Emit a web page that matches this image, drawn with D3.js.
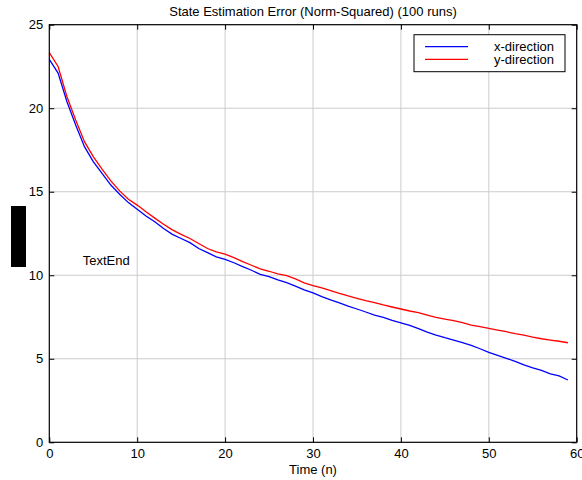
<!DOCTYPE html>
<html>
<head>
<meta charset="utf-8">
<script src="https://cdn.jsdelivr.net/npm/d3@7"></script>
<style>
  body { margin: 0; background: #fff; }
  svg text { font-family: "Liberation Sans", Arial, Helvetica, sans-serif; font-size: 13px; fill: #000; }
</style>
</head>
<body>
<svg id="chart" width="582" height="480"></svg>
<script>
// error per time step, x and y direction
const xDirection = [22.93, 22.1, 20.4, 19.0, 17.7, 16.8, 16.1, 15.4, 14.85, 14.35,
    13.95, 13.55, 13.2, 12.8, 12.45, 12.2, 11.95, 11.6, 11.35, 11.1,
    10.95, 10.75, 10.52, 10.3, 10.05, 9.92, 9.72, 9.56, 9.35, 9.12,
    8.95, 8.72, 8.52, 8.35, 8.15, 7.98, 7.8, 7.62, 7.48, 7.3,
    7.15, 7.0, 6.8, 6.6, 6.42, 6.26, 6.12, 5.96, 5.8, 5.6,
    5.38, 5.2, 5.03, 4.85, 4.63, 4.45, 4.3, 4.1, 3.98, 3.73];
const yDirection = [23.33, 22.5, 20.7, 19.3, 18.0, 17.1, 16.35, 15.65, 15.05, 14.55,
    14.2, 13.8, 13.42, 13.05, 12.72, 12.45, 12.2, 11.9, 11.6, 11.4,
    11.27, 11.05, 10.82, 10.6, 10.38, 10.24, 10.08, 9.98, 9.78, 9.55,
    9.38, 9.25, 9.08, 8.92, 8.76, 8.62, 8.48, 8.36, 8.22, 8.1,
    7.98, 7.86, 7.76, 7.62, 7.48, 7.38, 7.28, 7.16, 7.02, 6.92,
    6.82, 6.72, 6.62, 6.5, 6.42, 6.3, 6.2, 6.12, 6.05, 5.96];
const xTicks = [0, 10, 20, 30, 40, 50, 60];
const yTicks = [0, 5, 10, 15, 20, 25];
const seriesNames = ["x-direction", "y-direction"];
const seriesColors = ["#0000ff", "#ff0000"];

const margin = { top: 24.7, right: 5.3, bottom: 37.7, left: 49.3 };
const width = 582, height = 480;
const svg = d3.select("#chart");

const x = d3.scaleLinear().domain([0, 60]).range([margin.left, width - margin.right]);
const y = d3.scaleLinear().domain([0, 25]).range([height - margin.bottom, margin.top]);

// grid
const grid = svg.append("g").attr("stroke", "#cccccc").attr("stroke-width", 1);
grid.selectAll("line.gx").data(xTicks.slice(1, -1)).enter().append("line")
    .attr("x1", d => x(d)).attr("x2", d => x(d))
    .attr("y1", y(0)).attr("y2", y(25));
grid.selectAll("line.gy").data(yTicks.slice(1, -1)).enter().append("line")
    .attr("x1", x(0)).attr("x2", x(60))
    .attr("y1", d => y(d)).attr("y2", d => y(d));

// lines
const line = d3.line().x((d, i) => x(i)).y(d => y(d));
[xDirection, yDirection].forEach((s, k) => {
    svg.append("path")
        .datum(s)
        .attr("fill", "none")
        .attr("stroke", seriesColors[k])
        .attr("stroke-width", 1.3)
        .attr("d", line);
});

// axes, ticks pointing inward on all four sides
const tickLen = 5;
const axisBottom = d3.axisBottom(x).tickValues(xTicks).tickSizeInner(-tickLen).tickSizeOuter(0).tickPadding(6.5);
const axisLeft = d3.axisLeft(y).tickValues(yTicks).tickSizeInner(-tickLen).tickSizeOuter(0).tickPadding(6);
const axisTop = d3.axisTop(x).tickValues(xTicks).tickSizeInner(-tickLen).tickSizeOuter(0).tickFormat("");
const axisRight = d3.axisRight(y).tickValues(yTicks).tickSizeInner(-tickLen).tickSizeOuter(0).tickFormat("");

function styleAxis(g) {
    g.select(".domain").remove();
    g.selectAll(".tick line").attr("stroke", "#000");
    g.selectAll("text").attr("font-size", 13).attr("font-family", null);
}
svg.append("g").attr("transform", `translate(0,${y(0)})`).call(axisBottom).call(styleAxis);
svg.append("g").attr("transform", `translate(${x(0)},0)`).call(axisLeft).call(styleAxis);
svg.append("g").attr("transform", `translate(0,${y(25)})`).call(axisTop).call(styleAxis);
svg.append("g").attr("transform", `translate(${x(60)},0)`).call(axisRight).call(styleAxis);

// frame
svg.append("rect")
    .attr("x", x(0)).attr("y", y(25))
    .attr("width", x(60) - x(0)).attr("height", y(0) - y(25))
    .attr("fill", "none").attr("stroke", "#000").attr("stroke-width", 1.2);

// titles
svg.append("text").attr("x", (x(0) + x(60)) / 2).attr("y", 16)
    .attr("text-anchor", "middle").text("State Estimation Error (Norm-Squared) (100 runs)");
svg.append("text").attr("x", (x(0) + x(60)) / 2).attr("y", 473.5)
    .attr("text-anchor", "middle").text("Time (n)");

// redacted y label block
svg.append("rect").attr("x", 11).attr("y", 206).attr("width", 15).attr("height", 61).attr("fill", "#000");

// annotation
svg.append("text").attr("x", x(3.8)).attr("y", y(10.6)).text("TextEnd");

// legend
const legend = svg.append("g").attr("transform", "translate(414,34.7)");
legend.append("rect").attr("width", 151).attr("height", 37)
    .attr("fill", "#fff").attr("stroke", "#000").attr("stroke-width", 1);
seriesNames.forEach((name, i) => {
    const row = legend.append("g").attr("transform", `translate(0,${12 + i * 12.6})`);
    row.append("line").attr("x1", 11).attr("x2", 54)
        .attr("stroke", seriesColors[i]).attr("stroke-width", 1.3);
    row.append("text").attr("x", 140).attr("y", 4.5)
        .attr("text-anchor", "end").attr("font-size", 12.8).text(name);
});
</script>
</body>
</html>
